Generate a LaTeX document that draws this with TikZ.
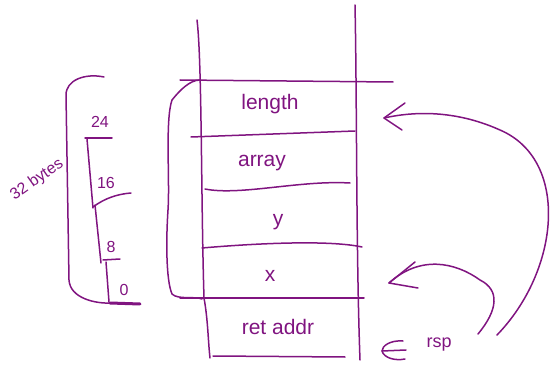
\documentclass[tikz,border=0pt]{standalone}
\usepackage{fontspec}
\setmainfont{Liberation Sans}
\definecolor{ink}{RGB}{128,20,128}
\begin{document}
\begin{tikzpicture}[x=1pt,y=-1pt,
  pen/.style={draw=ink,line width=1.5pt,line cap=round,line join=round},
  lbl/.style={text=ink,font=\fontsize{21}{21}\selectfont},
  small/.style={text=ink,font=\fontsize{16}{16}\selectfont}]
\useasboundingbox (0,0) rectangle (558,369);
% stack column
\draw[pen] (197,20) .. controls (202,60) and (201,200) .. (204,298);
\draw[pen] (204,298) .. controls (208,320) and (208,340) .. (210,358);
\draw[pen] (355,5) .. controls (357,100) and (356,250) .. (360,360);
% separators
\draw[pen] (180,80) -- (393,82);
\draw[pen] (191,137) -- (355,131);
\draw[pen] (205,189) .. controls (240,196) and (300,180) .. (350,183);
\draw[pen] (202,248) .. controls (260,243) and (330,240) .. (362,247);
\draw[pen] (180,298) -- (364,298);
\draw[pen] (213,356) -- (345,357);
% labels
\node[lbl] (len) at (270,104) {length};
\node[lbl] (arr) at (262,163) {array};
\node[lbl] (yv) at (278,222) {y};
\node[lbl] (xv) at (270,276) {x};
\node[lbl] (ret) at (278,327) {ret addr};
% curly brace
\draw[pen] (200,80) .. controls (190,80) and (180,90) .. (172,100)
  .. controls (165,120) and (170,180) .. (168,210)
  .. controls (166,240) and (166,280) .. (172,294)
  .. controls (178,300) and (195,296) .. (202,299);
% big bracket
\draw[pen] (104,77) .. controls (85,73) and (66,80) .. (66,95)
  -- (69,280) .. controls (70,298) and (95,304) .. (112,303);
\node[small,rotate=35] (bytes) at (37,180) {32 bytes};
% staircase
\node[small] (t24) at (100,122) {24};
\draw[pen] (85,138) -- (112,138);
\draw[pen] (87,139) -- (93,208);
\node[small] (t16) at (106,183) {16};
\draw[pen] (93,207) .. controls (105,198) and (118,194) .. (131,193);
\draw[pen] (95,205) -- (101,263);
\node[small] (t8) at (111,247) {8};
\draw[pen] (103,260) -- (120,259);
\draw[pen] (106,262) -- (109,302);
\node[small] (t0) at (124,290) {0};
\draw[draw=ink,line width=3pt,line cap=round] (110,303) -- (140,304);
% arrows
\coordinate (a1) at (384,118);
\coordinate (a1s) at (497,335);
\draw[pen] (a1s) .. controls (560,270) and (570,160) .. (500,130)
  .. controls (460,112) and (420,110) .. (a1);
\draw[pen] (405,103) -- (a1) -- (402,130);
\coordinate (a2) at (389,283);
\coordinate (a2s) at (478,334);
\draw[pen] (a2s) .. controls (498,310) and (500,290) .. (480,280)
  .. controls (455,262) and (420,255) .. (a2);
\draw[pen] (415,262) -- (a2) -- (418,288);
\node[small,anchor=west,font=\fontsize{18}{18}\selectfont] (rsp) at (423,345) {rsp};
\coordinate (r1) at (382,351);
\draw[pen] (403,341) .. controls (390,340) and (382,346) .. (r1)
  .. controls (384,358) and (395,361) .. (405,359);
\draw[pen] (r1) -- (406,350);
\end{tikzpicture}
\end{document}
